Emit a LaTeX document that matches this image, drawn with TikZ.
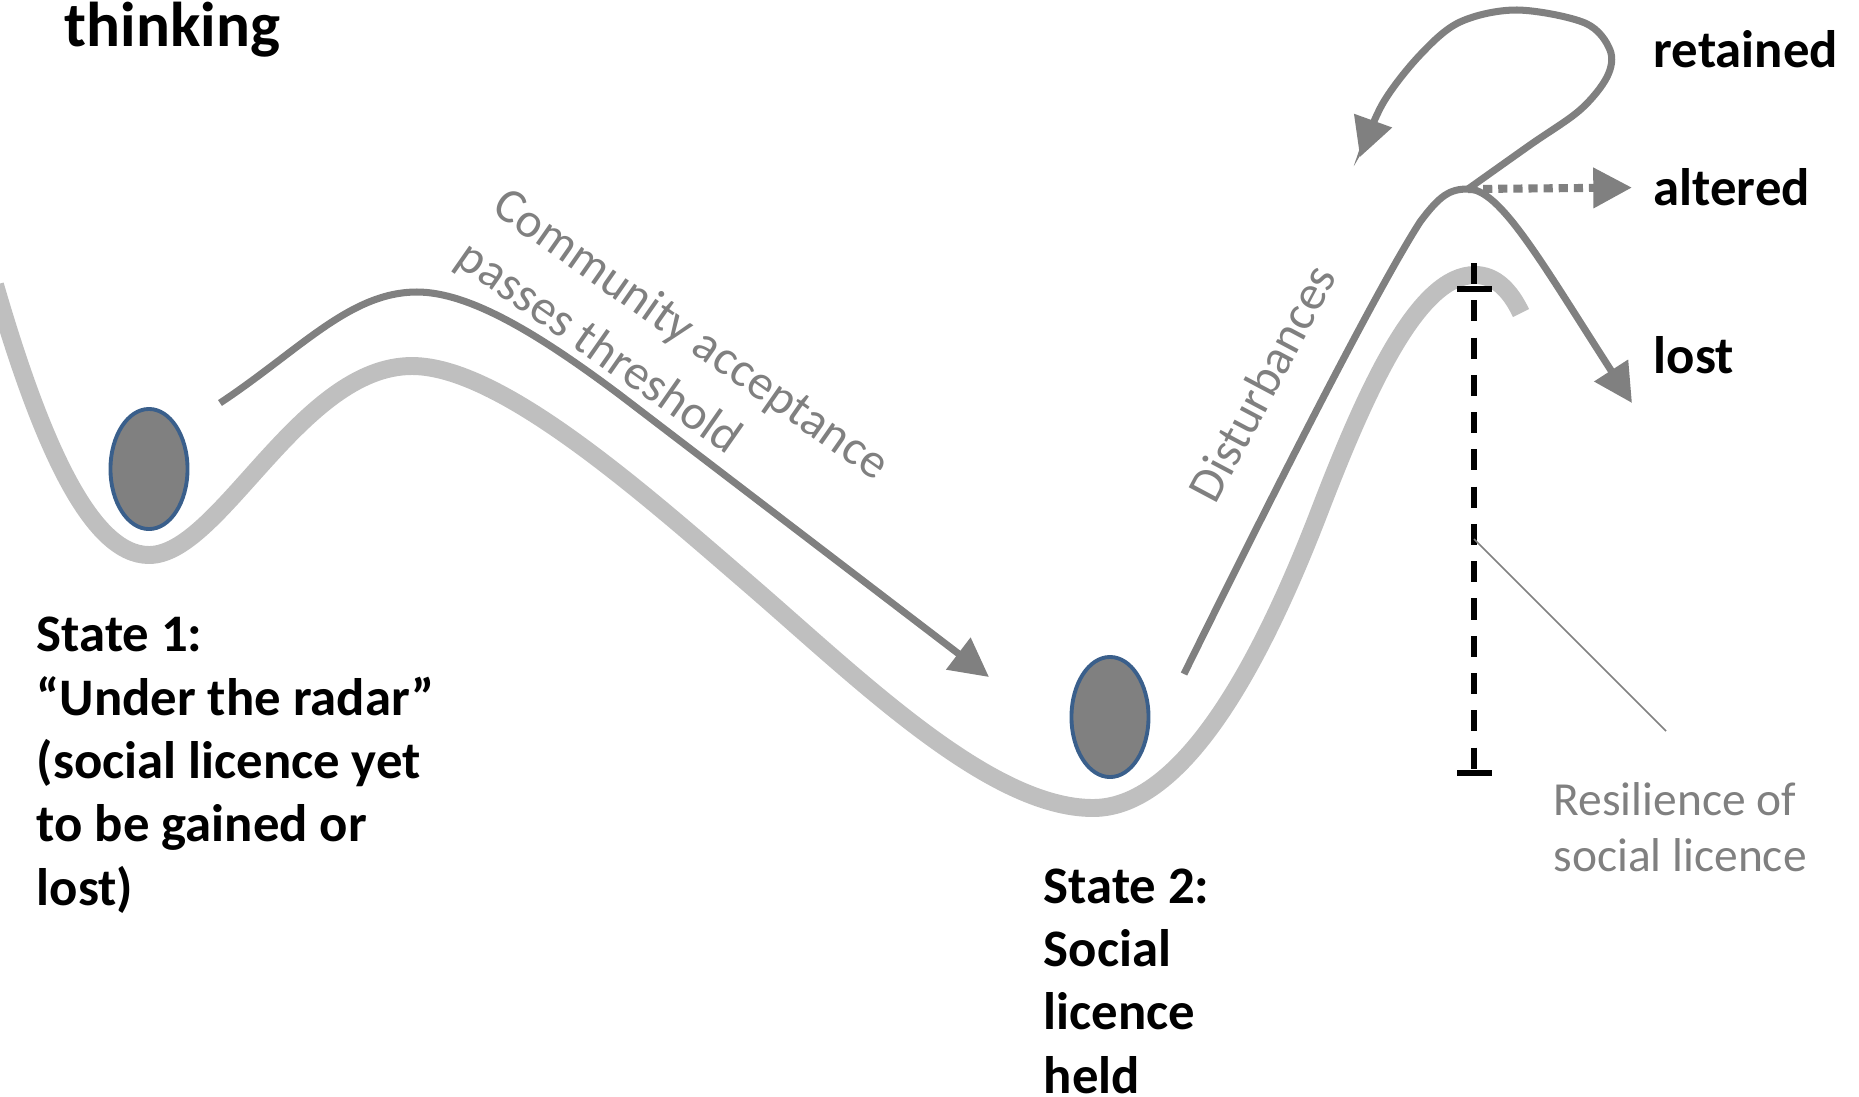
\documentclass[tikz,border=0pt]{standalone}
\usepackage{fontspec}
\setmainfont{Carlito}
\usetikzlibrary{arrows.meta,positioning,shapes.geometric}

\definecolor{valley}{HTML}{BFBFBF}
\definecolor{track}{HTML}{808080}
\definecolor{rim}{HTML}{3A5F8B}

\tikzset{
  valley/.style={draw=valley, line width=5.1pt},
  track/.style={draw=track, line width=2pt},
  ball/.style={ellipse, draw=rim, fill=track, line width=1.1pt,
    minimum width=0.77cm, minimum height=1.2cm, inner sep=0pt},
  head/.style={-{Triangle[length=11pt,width=11pt]}},
  dotline/.style={line width=2.3pt, dash pattern=on 2.6pt off 1.7pt},
  gauge/.style={draw=black, line width=1.6pt, dash pattern=on 6pt off 4.6pt},
  bar/.style={draw=black, line width=1.6pt},
  statetext/.style={font=\fontsize{15}{18}\selectfont\bfseries,
    align=left, anchor=base west, inner sep=0pt},
  graytext/.style={text=track, align=left, inner sep=0pt}
}

\begin{document}
\begin{tikzpicture}[x=0.01cm, y=-0.01cm]
        \useasboundingbox (0,0) rectangle (1859,1096);
        % Landscape
        \draw [valley] (-5,285) .. controls (40,440) and (90,555) .. (149,555)
            .. controls (220,555) and (300,366) .. (412,366)
            .. controls (500,366) and (640,490) .. (750,585)
            .. controls (860,680) and (990,808) .. (1093,808)
            .. controls (1190,808) and (1270,640) .. (1320,510)
            .. controls (1370,380) and (1420,275) .. (1475,275)
            .. controls (1495,275) and (1510,290) .. (1521,313);
        % Balls
        \node [ball] (ball1) at (149,469) {};
        \node [ball] (ball2) at (1110,717) {};
        % Community acceptance arrow
        \draw [track, head] (220,403) .. controls (300,350) and (350,292) .. (417,292)
            .. controls (470,292) and (540,335) .. (620,395) -- (989,677);
        % Disturbances, over the crest and lost
        \coordinate (crest) at (1468,189);
        \draw [track] (1184,674) .. controls (1250,540) and (1370,300) .. (1420,222)
            .. controls (1440,195) and (1450,189) .. (crest);
        \draw [track, head] (crest) .. controls (1500,189) and (1540,260) .. (1632,403);
        % Retained loop
        \draw [track, head] plot [smooth, tension=0.55] coordinates {
            (crest) (1530,145) (1580,110) (1607,77) (1610,50) (1585,23)
            (1517,10) (1460,22) (1420,55) (1383,103) (1360,157)};
        % Labels
        \node [font=\fontsize{18}{22}\selectfont\bfseries, anchor=base west,
            inner sep=0pt] (thinking) at (64,46) {thinking};
        \node [statetext] (retained) at (1653,67) {retained};
        \node [statetext] (altered) at (1653,205) {altered};
        \node [statetext] (lost) at (1653,373) {lost};
        \node [statetext] (state1) at (36,905)
            {State 1:\\“Under the radar”\\(social licence yet\\to be gained or\\lost)};
        \node [statetext] (state2) at (1043,1093) {State 2:\\Social\\licence\\held};
        \node [graytext, font=\fontsize{14}{18}\selectfont, rotate=-35]
            (accept) at (672,362) {Community acceptance\\passes threshold};
        \node [graytext, font=\fontsize{14}{18}\selectfont, rotate=62]
            (disturb) at (1262,383) {Disturbances};
        \node [graytext, font=\fontsize{13.5}{15.7}\selectfont, anchor=base west]
            (resil) at (1553,871) {Resilience of\\social licence};
        % Altered
        \draw [track, dotline, head, shorten >=0.21cm] (crest) -- (altered);
        % Resilience gauge
        \draw [gauge] (1474,263) -- (1474,773);
        \foreach \y in {289,773}
        {
        \draw [bar] (1457,\y) -- ++(35,0);
        }
        \coordinate (gaugemid) at (1474,539);
        \coordinate (pointer) at (1666,731);
        \draw [track, line width=0.5pt] (gaugemid) -- (pointer);
\end{tikzpicture}
\end{document}
